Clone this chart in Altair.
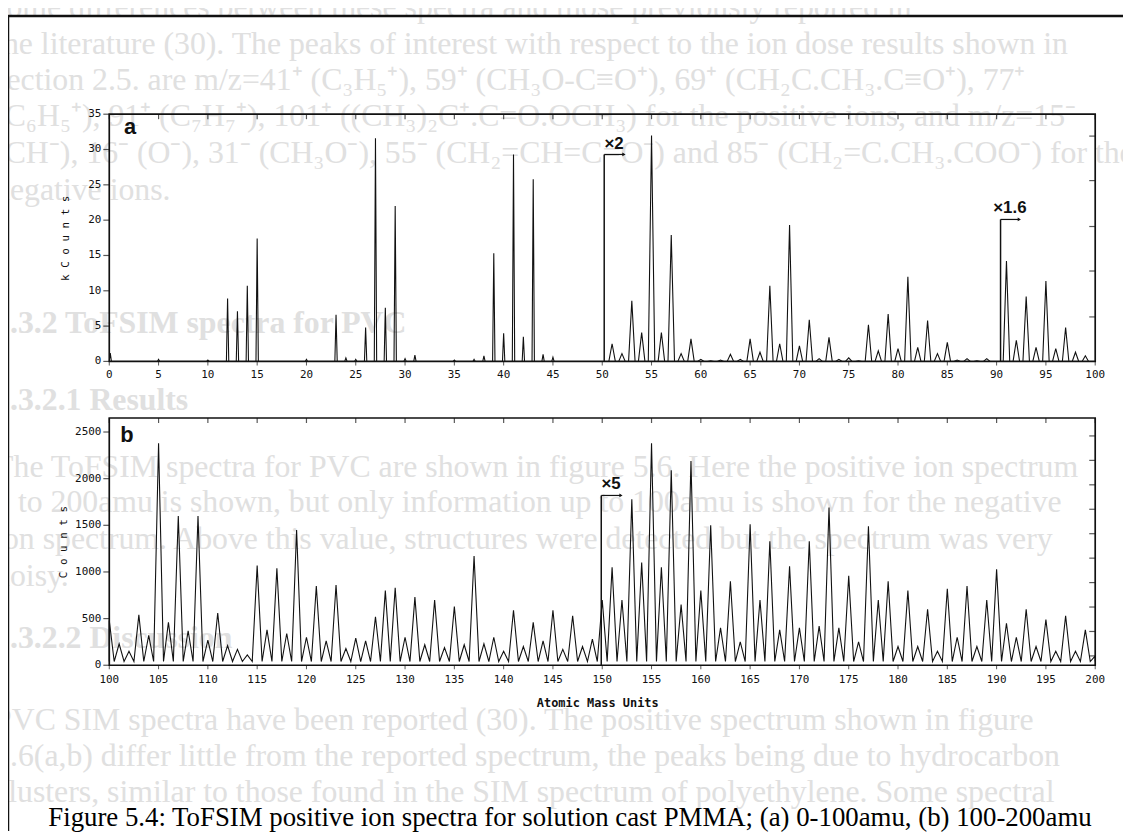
import altair as alt
import pandas as pd

# ---------------- data ----------------
# panel a: m/z 0-100, k counts (displayed heights, x2 region 50-90, x1.6 region 90-100)
a_mass = [0.1, 5, 10, 12, 13, 14, 15, 20, 23, 24, 25, 26, 27, 28, 29, 30, 31, 35, 37, 38,
          39, 40, 41, 42, 43, 44, 45,
          51, 52, 53, 54, 55, 56, 57, 58, 59, 60, 61, 62, 63, 64, 65, 66, 67, 68, 69,
          70, 71, 72, 73, 74, 75, 76, 77, 78, 79, 80, 81, 82, 83, 84, 85, 86, 87, 88, 89,
          91, 92, 93, 94, 95, 96, 97, 98, 99]
a_height = [1.2, 0.3, 0.2, 8.9, 7.1, 10.7, 17.4, 0.3, 6.6, 0.5, 0.3, 4.8, 31.6, 7.6, 22.0, 0.4, 0.9, 0.2, 0.3, 0.8,
            15.3, 4.0, 29.3, 3.5, 25.8, 1.0, 0.6,
            2.5, 1.1, 8.6, 4.1, 32.0, 4.1, 17.9, 1.1, 3.2, 0.3, 0.1, 0.2, 1.0, 0.3, 3.2, 1.3, 10.7, 2.5, 19.3,
            2.2, 5.9, 0.4, 3.4, 0.3, 0.5, 0.1, 5.2, 1.5, 6.7, 1.8, 12.0, 2.0, 5.8, 1.1, 2.7, 0.2, 0.4, 0.1, 0.4,
            14.2, 3.0, 9.2, 2.0, 11.4, 1.8, 4.8, 1.3, 0.8]

# panel b: m/z 100-200, counts (x5 region from 150)
b_mass = list(range(100, 201))
b_height = [480, 230, 150, 540, 320, 2380, 460, 1600, 370, 1600,
            270, 560, 210, 170, 110, 1070, 380, 1040, 340, 1450,
            300, 850, 260, 860, 180, 290, 260, 520, 800, 830,
            300, 730, 220, 700, 190, 630, 220, 1170, 230, 300,
            150, 590, 200, 460, 260, 590, 170, 530, 200, 280,
            700, 1050, 700, 1780, 1100, 2380, 1050, 2090, 650, 2190,
            800, 1500, 400, 900, 250, 1510, 700, 1330, 380, 1060,
            400, 1330, 420, 1690, 400, 960, 250, 1490, 700, 900,
            200, 800, 200, 600, 150, 820, 300, 850, 200, 700,
            1030, 450, 300, 600, 200, 490, 150, 530, 150, 380,
            100]
b_valley = 40

a_yticks = [0, 5, 10, 15, 20, 25, 30, 35]
a_xticks = list(range(0, 101, 5))
a_right_ticks = [6.3, 12.8, 19.1, 25.6, 31.9]
b_yticks = [0, 500, 1000, 1500, 2000, 2500]
b_xticks = list(range(100, 201, 5))
b_right_ticks = [100, 362, 624, 886, 1148, 1410, 1672, 1934, 2196, 2458]

# scale-factor annotations: (start, top, arrow end, label)
a_marks = [(50.2, 29.3, 52.2, "×2"), (90.4, 20.1, 92.3, "×1.6")]
b_marks = [(149.9, 1820, 151.9, "×5")]

ghost_lines = [
    ("some differences between these spectra and those previously reported in", 4, False),
    ("the literature (30).  The peaks of interest with respect to the ion dose results shown in", 41, False),
    ("section 2.5. are m/z=41⁺ (C₃H₅⁺), 59⁺ (CH₃O-C≡O⁺), 69⁺ (CH₂C.CH₃.C≡O⁺), 77⁺", 78, False),
    ("(C₆H₅⁺), 91⁺ (C₇H₇⁺), 101⁺ ((CH₃)₂C⁺.C=O.OCH₃) for the positive ions, and m/z=15⁻", 114, False),
    ("(CH⁻), 16⁻ (O⁻), 31⁻ (CH₃O⁻), 55⁻ (CH₂=CH=C=O⁻) and 85⁻ (CH₂=C.CH₃.COO⁻) for the", 151, False),
    ("negative ions.", 188, False),
    ("5.3.2   ToFSIM spectra for PVC", 322, True),
    ("5.3.2.1 Results", 400, True),
    ("The ToFSIM spectra for PVC are shown in figure 5.6.  Here the positive ion spectrum", 467, False),
    ("0 to 200amu is shown, but only information up to 100amu is shown for the negative", 503, False),
    ("ion spectrum.  Above this value, structures were detected but the spectrum was very", 540, False),
    ("noisy.", 577, False),
    ("5.3.2.2 Discussion", 640, True),
    ("PVC SIM spectra have been reported (30).  The positive spectrum shown in figure", 722, False),
    ("5.6(a,b) differ little from the reported spectrum, the peaks being due to hydrocarbon", 758, False),
    ("clusters, similar to those found in the SIM spectrum of polyethylene.  Some spectral", 795, False),
]
caption = "Figure 5.4:  ToFSIM positive ion spectra for solution cast PMMA; (a) 0-100amu, (b) 100-200amu"

# ---------------- build tables ----------------
def trace(mass, height, start, end, base, narrow_until, w_narrow, w_wide):
    pts = [(start, base)]
    for m, h in zip(mass, height):
        w = w_narrow if m < narrow_until else w_wide
        for x, y in ((m - w, base), (m, h), (m + w, base)):
            if start <= x <= end:
                pts.append((x, y))
    pts.append((end, base))
    df = pd.DataFrame(pts, columns=["x", "y"]).sort_values("x", kind="stable").reset_index(drop=True)
    df["i"] = range(len(df))
    return df

df_a = trace(a_mass, a_height, 0, 100, 0, 48, 0.12, 0.33)
df_b = trace(b_mass, b_height, 100, 200, b_valley, 0, 0.5, 0.5)

OX = 8  # page margin
def S(dom, rng):
    return alt.Scale(domain=dom, range=rng, nice=False, zero=False)

AX = S([0, 100], [110 - OX, 1103 - OX])
AY = S([0, 35], [361 - OX, 112 - OX])
BX = S([100, 200], [110 - OX, 1103 - OX])
BY = S([0, 2650], [667 - OX, 418 - OX])

INK = "#111111"
TICKFONT = "DejaVu Sans Mono"


def panel(df, XS, YS, xdom, ydom, xticks, yticks, rticks, marks, letter, letter_pos, xlab_dy):
    X = lambda f: alt.X(f, type="quantitative", scale=XS, axis=None)
    Y = lambda f: alt.Y(f, type="quantitative", scale=YS, axis=None)
    layers = []
    layers.append(alt.Chart(df).mark_line(color=INK, strokeWidth=1.1).encode(
        x=X("x"), y=Y("y"), order="i:Q"))
    frame = pd.DataFrame({"x0": [xdom[0]], "x1": [xdom[1]], "y0": [ydom[0]], "y1": [ydom[1]]})
    layers.append(alt.Chart(frame).mark_rect(fill=None, stroke=INK, strokeWidth=1.7).encode(
        x=X("x0"), x2="x1", y=Y("y0"), y2="y1"))
    yt = pd.DataFrame({"v": yticks, "x0": xdom[0], "lab": [str(v) for v in yticks]})
    layers.append(alt.Chart(yt).mark_tick(orient="horizontal", size=6, thickness=1.2, color=INK, xOffset=-3).encode(
        x=X("x0"), y=Y("v")))
    layers.append(alt.Chart(yt).mark_text(align="right", baseline="middle", dx=-8, font=TICKFONT,
                                          fontSize=11, color=INK).encode(x=X("x0"), y=Y("v"), text="lab"))
    xt = pd.DataFrame({"v": xticks, "y0": ydom[0], "y1": ydom[1], "lab": [str(v) for v in xticks]})
    layers.append(alt.Chart(xt).mark_tick(orient="vertical", size=5, thickness=1.2, color=INK, yOffset=2.5).encode(
        x=X("v"), y=Y("y1")))
    layers.append(alt.Chart(xt).mark_tick(orient="vertical", size=4, thickness=1.0, color=INK, yOffset=2).encode(
        x=X("v"), y=Y("y0")))
    layers.append(alt.Chart(xt).mark_text(align="center", baseline="middle", dy=xlab_dy, font=TICKFONT,
                                          fontSize=11, color=INK).encode(x=X("v"), y=Y("y0"), text="lab"))
    rt = pd.DataFrame({"v": rticks, "x1": xdom[1]})
    layers.append(alt.Chart(rt).mark_tick(orient="horizontal", size=6, thickness=1.2, color=INK, xOffset=-3).encode(
        x=X("x1"), y=Y("v")))
    mk = pd.DataFrame(marks, columns=["x", "top", "xe", "lab"])
    mk["base"] = ydom[0]
    mk["xm"] = (mk["x"] + mk["xe"]) / 2
    layers.append(alt.Chart(mk).mark_rule(color=INK, strokeWidth=1.5).encode(x=X("x"), y=Y("base"), y2="top"))
    layers.append(alt.Chart(mk).mark_rule(color=INK, strokeWidth=1.2).encode(x=X("x"), x2="xe", y=Y("top")))
    layers.append(alt.Chart(mk).mark_point(shape="triangle-right", size=14, filled=True, color=INK, opacity=1).encode(
        x=X("xe"), y=Y("top")))
    layers.append(alt.Chart(mk).mark_text(align="center", baseline="alphabetic", dy=-6, font="Liberation Sans",
                                          fontWeight="bold", fontSize=17, color=INK).encode(
        x=X("xm"), y=Y("top"), text="lab"))
    lt = pd.DataFrame({"x": [letter_pos[0]], "y": [letter_pos[1]], "t": [letter]})
    layers.append(alt.Chart(lt).mark_text(align="center", baseline="alphabetic", font="Liberation Sans",
                                          fontWeight="bold", fontSize=22, color=INK).encode(
        x=X("x"), y=Y("y"), text="t"))
    return layers


layers_a = panel(df_a, AX, AY, [0, 100], [0, 35], a_xticks, a_yticks, a_right_ticks, a_marks,
                 "a", (2.1, 32.2), 14)
layers_b = panel(df_b, BX, BY, [100, 200], [0, 2650], b_xticks, b_yticks, b_right_ticks, b_marks,
                 "b", (101.8, 2394), 15)

gdf = pd.DataFrame(ghost_lines, columns=["t", "gy", "bold"])
gdf["gx"] = -14
gdf["gy"] = gdf["gy"] - OX
ghost = []
for flag, wt in ((False, "normal"), (True, "bold")):
    sub = gdf[gdf["bold"] == flag]
    ghost.append(alt.Chart(sub).mark_text(align="left", baseline="middle", font="Liberation Serif",
                                          fontSize=32, fontWeight=wt, color="#e0e0e0").encode(
        x=alt.X("gx:Q", scale=None, axis=None), y=alt.Y("gy:Q", scale=None, axis=None), text="t"))

one = pd.DataFrame({"k": [0]})
frame_top = alt.Chart(one).mark_rule(color=INK, strokeWidth=2.5).encode(
    x=alt.value(0), x2=alt.value(1123), y=alt.value(13 - OX))
frame_left = alt.Chart(one).mark_rule(color=INK, strokeWidth=2.5).encode(
    x=alt.value(0), y=alt.value(13 - OX), y2=alt.value(834 - OX))

title_a = alt.Chart(one).mark_text(angle=270, font=TICKFONT, fontSize=11, color=INK, baseline="middle").encode(
    x=alt.value(66 - OX), y=alt.value(237 - OX), text=alt.value("k  C o u n t s"))
title_b = alt.Chart(one).mark_text(angle=270, font=TICKFONT, fontSize=11, color=INK, baseline="middle").encode(
    x=alt.value(64 - OX), y=alt.value(543 - OX), text=alt.value("C o u n t s"))
title_x = alt.Chart(one).mark_text(font=TICKFONT, fontSize=12, fontWeight="bold", color=INK, baseline="middle").encode(
    x=alt.value(602 - OX), y=alt.value(705 - OX), text=alt.value("Atomic Mass Units"))
cap = alt.Chart(one).mark_text(font="Liberation Serif", fontSize=27, color="#000000", baseline="middle").encode(
    x=alt.value(574 - OX), y=alt.value(821 - OX), text=alt.value(caption))

chart = alt.layer(*ghost, frame_top, frame_left, *layers_a, *layers_b, title_a, title_b, title_x, cap).resolve_scale(
    x="independent", y="independent"
).properties(
    width=1123, height=826, padding=0, autosize=alt.AutoSizeParams(type="none"), background="white"
).configure_view(stroke=None)

chart.save("out.html", embed_options={"renderer": "svg", "actions": False})
